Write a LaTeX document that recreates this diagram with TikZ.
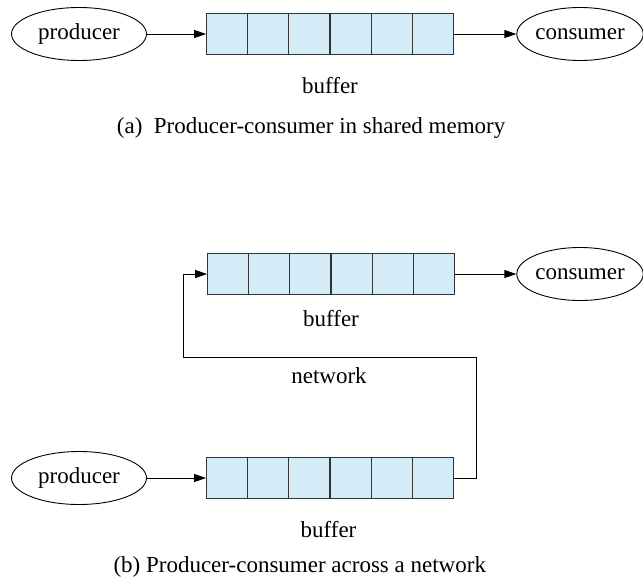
\documentclass[tikz,border=0pt]{standalone}
\usepackage{fontspec}
\setmainfont{Liberation Serif}
\usetikzlibrary{arrows.meta,shapes.geometric,calc}
\definecolor{cellblue}{HTML}{D6EBF8}
\definecolor{edgegray}{HTML}{333333}
\tikzset{
  proc/.style={ellipse,draw=black,line width=0.9pt,minimum width=135pt,minimum height=53pt,inner sep=0pt,font=\fontsize{23}{27}\selectfont},
  bufbox/.style={rectangle,draw=edgegray,line width=1.2pt,fill=cellblue,minimum width=246.6pt,minimum height=40.3pt,inner sep=0pt},
  lbl/.style={anchor=base,inner sep=0pt,font=\fontsize{23}{27}\selectfont},
  captxt/.style={anchor=base west,inner sep=0pt,font=\fontsize{23}{27}\selectfont},
  conn/.style={draw=black,line width=0.9pt,-{Triangle[length=12pt,width=8pt]}},
}
\newcommand{\cellsep}[1]{%
  \foreach \k in {1,...,5} {
    \draw[edgegray,line width=1.2pt] ($(#1.north west)!\k/6!(#1.north east)$) -- ($(#1.south west)!\k/6!(#1.south east)$);
  }}
\begin{document}
\begin{tikzpicture}[x=1pt,y=-1pt]
\useasboundingbox (0,0) rectangle (643,579);
% (a)
\node[proc] (prodA) at (79,34) {producer};
\node[bufbox] (bufA) at (330,34) {};
\cellsep{bufA}
\node[proc,minimum width=126pt] (consA) at (580,34) {consumer};
\node[lbl] (bufAl) at (330,93) {buffer};
\node[captxt] (capA) at (116.7,133) {(a)\ \ Producer-consumer in shared memory};
\draw[conn] (prodA.east) -- (bufA.west);
\draw[conn] (bufA.east) -- (consA.west);
% (b)
\node[bufbox] (bufB1) at (331,274) {};
\cellsep{bufB1}
\node[proc,minimum width=126pt] (consB) at (580,274) {consumer};
\node[lbl] (bufB1l) at (331,326) {buffer};
\node[lbl] (net) at (329,383) {network};
\node[proc] (prodB) at (79,478) {producer};
\node[bufbox] (bufB2) at (330,478) {};
\cellsep{bufB2}
\node[lbl] (bufB2l) at (328.5,537) {buffer};
\node[captxt] (capB) at (113.3,572) {(b) Producer-consumer across a network};
\coordinate (n1) at (476.7,357.3);
\coordinate (n2) at (183.3,357.3);
\draw[conn] (bufB1.east) -- (consB.west);
\draw[conn] (prodB.east) -- (bufB2.west);
\draw[conn] (bufB2.east) -| (n1) -- (n2) |- (bufB1.west);
\end{tikzpicture}
\end{document}
